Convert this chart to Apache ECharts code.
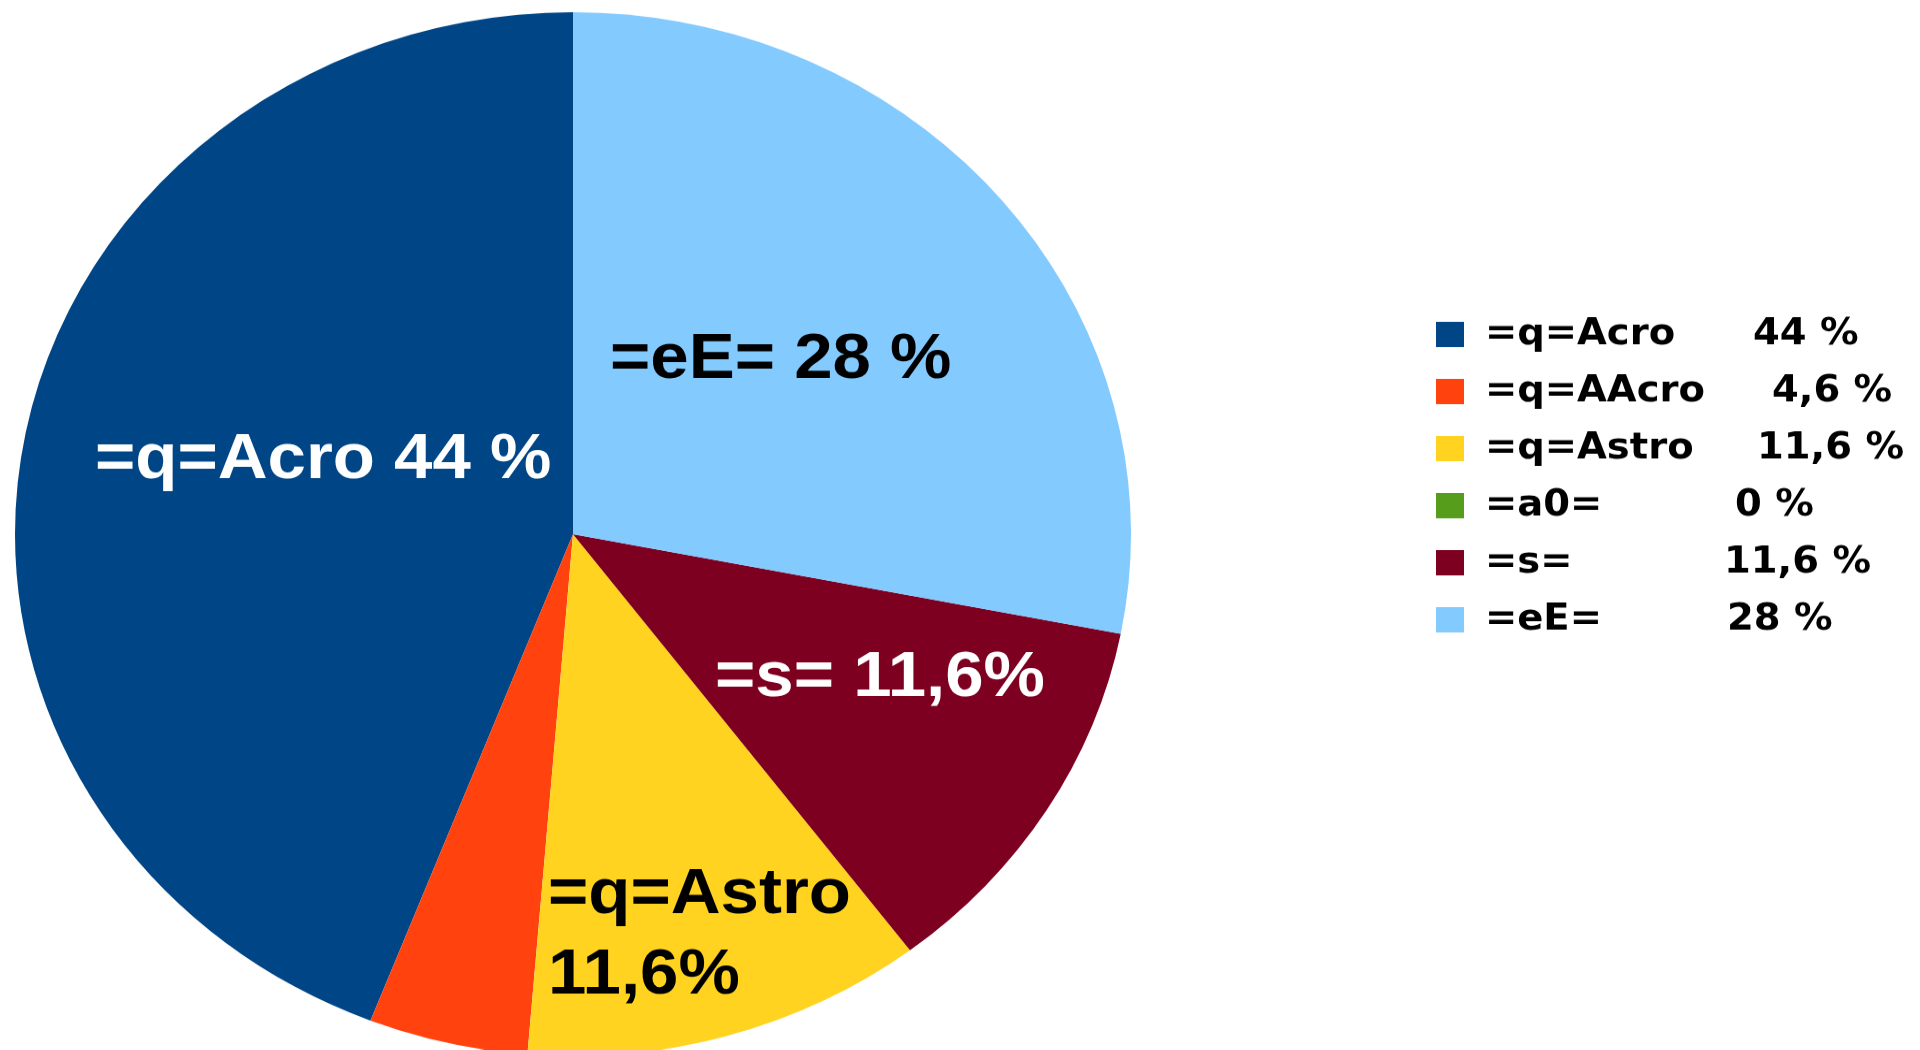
<!DOCTYPE html>
<html>
<head>
<meta charset="utf-8">
<script src="https://cdn.jsdelivr.net/npm/echarts@6/dist/echarts.min.js"></script>
<style>
  html, body { margin: 0; padding: 0; background: #ffffff; overflow: hidden; width: 1920px; height: 1050px; }
  #chart { width: 1920px; height: 1122px; transform: scaleY(0.9355); transform-origin: 0 0; }
</style>
</head>
<body>
<div id="chart"></div>
<script>
// ---- data ----
const categories = ['=q=Acro', '=q=AAcro', '=q=Astro', '=a0=', '=s=', '=eE='];
const values = [44, 4.6, 11.6, 0, 11.6, 28];
const colors = ['#004586', '#ff420e', '#ffd320', '#579d1c', '#7e0021', '#83caff'];
// slice label templates ('' = no label); {b} name, {v} value
const labelTemplates = ['{b} {v} %', '', '{b}\n{v}%', '', '{b} {v}%', '{b} {v} %'];
const labelColors = ['#ffffff', '#000000', '#000000', '#000000', '#ffffff', '#000000'];

// ---- layout (not data) ----
const labelAnchors = [[95, 492], null, [548, 1000], null, [715, 725], [610, 385]];
const legendValuePad = [29, 48, 33, 11, 0, 3];

function fmt(v) { return String(v).replace('.', ','); }

const chart = echarts.init(document.getElementById('chart'), null, { renderer: 'canvas' });

const FS = 38.5;
const rich = {
  n: { fontFamily: 'DejaVu Sans', fontWeight: 'bold', fontSize: FS, color: '#000', width: 239, padding: [0, 0, 0, 16], lineHeight: 40 }
};
legendValuePad.forEach((p, i) => {
  rich['v' + i] = { fontFamily: 'DejaVu Sans', fontWeight: 'bold', fontSize: FS, color: '#000', padding: [0, 0, 0, p], lineHeight: 40 };
});

chart.setOption({
  animation: false,
  backgroundColor: '#ffffff',
  legend: {
    orient: 'vertical',
    left: 1431,
    top: 333,
    itemWidth: 28,
    itemHeight: 27,
    itemGap: 22,
    icon: 'rect',
    selectedMode: false,
    data: categories,
    formatter: function (name) {
      const i = categories.indexOf(name);
      return '{n|' + name + '}{v' + i + '|' + fmt(values[i]) + ' %}';
    },
    textStyle: { rich: rich, fontFamily: 'DejaVu Sans', fontWeight: 'bold', fontSize: FS }
  },
  series: [{
    type: 'pie',
    center: [573, 571],
    radius: [0, 558],
    startAngle: 90,
    clockwise: false,
    minAngle: 0,
    avoidLabelOverlap: false,
    silent: true,
    itemStyle: { borderWidth: 0 },
    labelLine: { show: false },
    emphasis: { disabled: true },
    data: categories.map((c, i) => ({
      name: c,
      value: values[i],
      itemStyle: { color: colors[i] },
      label: {
        show: labelTemplates[i] !== '',
        position: 'inside',
        formatter: labelTemplates[i].replace('{b}', c).replace('{v}', fmt(values[i])),
        color: labelColors[i],
        fontFamily: 'Liberation Sans',
        fontWeight: 'bold',
        fontSize: 69,
        lineHeight: 86,
        align: 'left'
      }
    })),
    labelLayout: function (params) {
      const a = labelAnchors[params.dataIndex];
      if (!a) return {};
      return { x: a[0], y: a[1], align: 'left', verticalAlign: 'middle' };
    }
  }]
});
</script>
</body>
</html>
